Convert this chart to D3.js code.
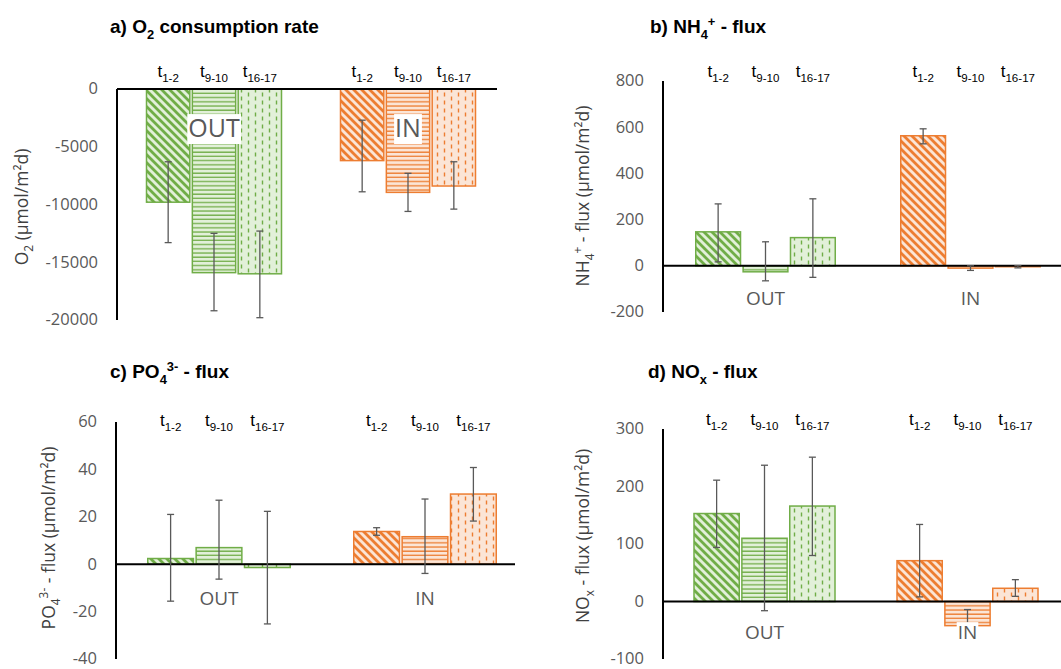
<!DOCTYPE html>
<html>
<head>
<meta charset="utf-8">
<script src="https://cdn.jsdelivr.net/npm/d3@7"></script>
<style>
  body { margin: 0; background: #fff; }
  svg { display: block; }
</style>
</head>
<body>
<script>
'use strict';

// data -- order: OUT t1-2, t9-10, t16-17, IN t1-2, t9-10, t16-17
var groups = ['OUT', 'IN'];
var periods = ['1-2', '9-10', '16-17'];

var o2Mean = [-9800, -15900, -16000, -6200, -8950, -8400];
var o2Lo   = [-13300, -19200, -19800, -8900, -10600, -10400];
var o2Hi   = [-6300, -12500, -12300, -2700, -7300, -6300];
var o2Ticks = [0, -5000, -10000, -15000, -20000];

var nh4Mean = [147, -26, 122, 563, -10, -4];
var nh4Lo   = [17, -65, -50, 528, -20, -9];
var nh4Hi   = [268, 104, 290, 593, 0, 1];
var nh4Ticks = [800, 600, 400, 200, 0, -200];

var po4Mean = [2.4, 7.0, -1.4, 13.8, 11.6, 29.6];
var po4Lo   = [-15.6, -6.3, -25.2, 12.2, -3.9, 18.2];
var po4Hi   = [21, 27, 22.3, 15.4, 27.5, 40.8];
var po4Ticks = [60, 40, 20, 0, -20, -40];

var noxMean = [153, 110, 166, 71, -42, 23];
var noxLo   = [94, -16, 80, 8, -70, 9];
var noxHi   = [211, 237, 251, 134, -14, 38];
var noxTicks = [300, 200, 100, 0, -100];

// [text, 'sub'|'sup'|undefined]
var o2Title  = [['a) O'], ['2', 'sub'], [' consumption rate']];
var nh4Title = [['b) NH'], ['4', 'sub'], ['+', 'sup'], [' - flux']];
var po4Title = [['c) PO'], ['4', 'sub'], ['3-', 'sup'], [' - flux']];
var noxTitle = [['d) NO'], ['x', 'sub'], [' - flux']];

var o2Axis  = [['O'], ['2', 'sub'], [' (µmol/m²d)']];
var nh4Axis = [['NH'], ['4', 'sub'], ['+', 'sup'], [' - flux (µmol/m²d)']];
var po4Axis = [['PO'], ['4', 'sub'], ['3-', 'sup'], [' - flux (µmol/m²d)']];
var noxAxis = [['NO'], ['x', 'sub'], [' - flux (µmol/m²d)']];

var colors = {
  OUT: { fg: '#70AD47', bg: '#E2F0D9' },
  IN:  { fg: '#ED7D31', bg: '#FBE5D6' }
};

var svg = d3.select('body').append('svg')
  .attr('width', 1061)
  .attr('height', 669);

// hatch patterns, one set per colour
var defs = svg.append('defs');
groups.forEach(function(g){
  var c = colors[g];

  var diag = defs.append('pattern')
    .attr('id', 'diag-' + g)
    .attr('patternUnits', 'userSpaceOnUse')
    .attr('width', 8).attr('height', 8);
  diag.append('rect').attr('width', 8).attr('height', 8).attr('fill', c.bg);
  diag.append('path')
    .attr('d', 'M-2,6 L2,10 M0,0 L8,8 M6,-2 L10,2')
    .attr('stroke', c.fg).attr('stroke-width', 2.8);

  var horiz = defs.append('pattern')
    .attr('id', 'horiz-' + g)
    .attr('patternUnits', 'userSpaceOnUse')
    .attr('width', 8).attr('height', 4.2);
  horiz.append('rect').attr('width', 8).attr('height', 4.2).attr('fill', c.bg);
  horiz.append('path')
    .attr('d', 'M0,1 L8,1')
    .attr('stroke', c.fg).attr('stroke-width', 1.3);

  var dash = defs.append('pattern')
    .attr('id', 'dash-' + g)
    .attr('patternUnits', 'userSpaceOnUse')
    .attr('width', 14).attr('height', 8);
  dash.append('rect').attr('width', 14).attr('height', 8).attr('fill', c.bg);
  dash.append('path')
    .attr('d', 'M3.5,0.5 L3.5,4.5 M10.5,4.5 L10.5,8.5 M10.5,-0.5 L10.5,0.5')
    .attr('stroke', c.fg).attr('stroke-width', 1.4);
});
var patternFor = { '1-2': 'diag', '9-10': 'horiz', '16-17': 'dash' };

// write text with sub/superscripts as tspans
function rich(text, parts, size){
  var offset = 0;
  parts.forEach(function(p){
    var target = 0, fs = size;
    if (p[1] === 'sub'){ target = size * 0.3; fs = size * 0.68; }
    if (p[1] === 'sup'){ target = -size * 0.38; fs = size * 0.68; }
    text.append('tspan')
      .attr('dy', target - offset)
      .attr('font-size', fs)
      .text(p[0]);
    offset = target;
  });
}

var panels = [
  { mean: o2Mean, lo: o2Lo, hi: o2Hi, ticks: o2Ticks, domain: [-20000, 0],
    title: o2Title, axis: o2Axis,
    left: 117, step: 194, barStep: 45, yRange: [320, 89], lineEnd: 497,
    titleX: 110, titleY: 33, tY: 77, catY: 137, catSize: 25, catBox: true, axX: 28, axY: 207 },
  { mean: nh4Mean, lo: nh4Lo, hi: nh4Hi, ticks: nh4Ticks, domain: [-200, 800],
    title: nh4Title, axis: nh4Axis,
    left: 663, step: 205, barStep: 46.5, yRange: [312, 81], lineEnd: 1061,
    titleX: 650, titleY: 33, tY: 77, catY: 305, catSize: 19, catBox: false, axX: 589, axY: 196 },
  { mean: po4Mean, lo: po4Lo, hi: po4Hi, ticks: po4Ticks, domain: [-40, 60],
    title: po4Title, axis: po4Axis,
    left: 116, step: 206, barStep: 47.5, yRange: [659, 422], lineEnd: 515,
    titleX: 110, titleY: 378, tY: 426, catY: 605, catSize: 19, catBox: false, axX: 55, axY: 538 },
  { mean: noxMean, lo: noxLo, hi: noxHi, ticks: noxTicks, domain: [-100, 300],
    title: noxTitle, axis: noxAxis,
    left: 663, step: 203, barStep: 47, yRange: [659, 429], lineEnd: 1061,
    titleX: 648, titleY: 378, tY: 425, catY: 639, catSize: 19, catBox: true, axX: 589, axY: 536 }
];

panels.forEach(function(p){
  var g = svg.append('g');

  var y = d3.scaleLinear().domain(p.domain).range(p.yRange);
  var xGroup = d3.scaleBand().domain(groups).range([p.left, p.left + 2 * p.step]);
  var xBar = d3.scaleBand().domain(periods)
    .range([-1.5 * p.barStep, 1.5 * p.barStep])
    .paddingInner(0.055);

  var rows = [];
  groups.forEach(function(grp, gi){
    periods.forEach(function(per, pi){
      var i = gi * 3 + pi;
      rows.push({ group: grp, period: per, v: p.mean[i], lo: p.lo[i], hi: p.hi[i] });
    });
  });
  function cx(d){ return xGroup(d.group) + xGroup.bandwidth() / 2 + xBar(d.period) + xBar.bandwidth() / 2; }

  // title
  rich(g.append('text')
    .attr('x', p.titleX).attr('y', p.titleY)
    .attr('font-family', 'Liberation Sans, Arial, sans-serif')
    .attr('font-weight', 'bold')
    .attr('fill', '#000'), p.title, 19);

  // y axis title
  rich(g.append('text')
    .attr('x', p.axX).attr('y', p.axY)
    .attr('transform', 'rotate(-90,' + p.axX + ',' + p.axY + ')')
    .attr('text-anchor', 'middle')
    .attr('font-family', 'Open Sans, sans-serif')
    .attr('fill', '#404040'), p.axis, 17.5);

  // tick labels
  g.selectAll('text.tick')
    .data(p.ticks)
    .enter().append('text')
    .attr('class', 'tick')
    .attr('x', p.left - 19)
    .attr('y', function(d){ return y(d); })
    .attr('dy', '0.33em')
    .attr('text-anchor', 'end')
    .attr('font-family', 'Open Sans, sans-serif')
    .attr('font-size', 16.5)
    .attr('fill', '#595959')
    .text(function(d){ return d; });

  // bars
  g.selectAll('rect.bar')
    .data(rows)
    .enter().append('rect')
    .attr('class', 'bar')
    .attr('x', function(d){ return cx(d) - xBar.bandwidth() / 2; })
    .attr('width', xBar.bandwidth())
    .attr('y', function(d){ return Math.min(y(0), y(d.v)); })
    .attr('height', function(d){ return Math.abs(y(d.v) - y(0)); })
    .attr('fill', function(d){ return 'url(#' + patternFor[d.period] + '-' + d.group + ')'; })
    .attr('stroke', function(d){ return colors[d.group].fg; })
    .attr('stroke-width', 1.5);

  // axes
  g.append('line')
    .attr('x1', p.left).attr('x2', p.left)
    .attr('y1', y(p.domain[1])).attr('y2', y(p.domain[0]))
    .attr('stroke', '#000').attr('stroke-width', 2);
  g.append('line')
    .attr('x1', p.left).attr('x2', p.lineEnd)
    .attr('y1', y(0)).attr('y2', y(0))
    .attr('stroke', '#000').attr('stroke-width', 2);

  // error bars
  var err = g.selectAll('g.err').data(rows).enter().append('g')
    .attr('class', 'err')
    .attr('stroke', '#595959')
    .attr('stroke-width', 1.3);
  err.append('line')
    .attr('x1', cx).attr('x2', cx)
    .attr('y1', function(d){ return y(d.lo); })
    .attr('y2', function(d){ return y(d.hi); });
  err.append('line')
    .attr('x1', function(d){ return cx(d) - 3.5; })
    .attr('x2', function(d){ return cx(d) + 3.5; })
    .attr('y1', function(d){ return y(d.lo); })
    .attr('y2', function(d){ return y(d.lo); });
  err.append('line')
    .attr('x1', function(d){ return cx(d) - 3.5; })
    .attr('x2', function(d){ return cx(d) + 3.5; })
    .attr('y1', function(d){ return y(d.hi); })
    .attr('y2', function(d){ return y(d.hi); });

  // t labels above bars
  rows.forEach(function(d){
    rich(g.append('text')
      .attr('x', cx(d)).attr('y', p.tY)
      .attr('text-anchor', 'middle')
      .attr('font-family', 'Liberation Sans, Arial, sans-serif')
      .attr('fill', '#000'), [['t'], [d.period, 'sub']], 17);
  });

  // category labels, with white box
  groups.forEach(function(grp){
    var lg = g.append('g');
    var box = lg.append('rect').attr('fill', '#fff');
    var t = lg.append('text')
      .attr('x', xGroup(grp) + xGroup.bandwidth() / 2)
      .attr('y', p.catY)
      .attr('text-anchor', 'middle')
      .attr('font-family', 'Open Sans, sans-serif')
      .attr('font-size', p.catSize)
      .attr('fill', '#595959')
      .text(grp);
    if (p.catBox){
      var bb = t.node().getBBox();
      box.attr('x', bb.x - 1).attr('y', bb.y + bb.height * 0.12)
        .attr('width', bb.width + 2).attr('height', bb.height * 0.88);
    }
  });
});
</script>
</body>
</html>
